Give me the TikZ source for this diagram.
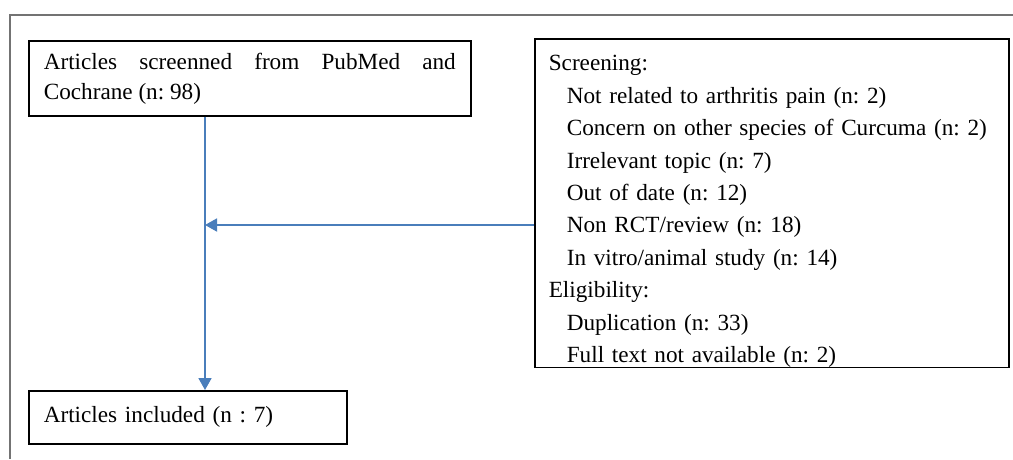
\documentclass[tikz,border=0pt]{standalone}
\usepackage{fontspec}
\setmainfont{Liberation Serif}
\usetikzlibrary{arrows.meta,calc}
\definecolor{arrowblue}{RGB}{74,126,187}
\frenchspacing
\tikzset{
  box/.style={draw=black, line width=1.6pt, anchor=north west, inner ysep=0pt, font=\fontsize{23.2}{32.4}\selectfont},
  flow/.style={draw=arrowblue, line width=1.8pt, -{Triangle[length=12pt,width=13pt]}},
  frame/.style={draw=black!55, line width=2pt}
}
\begin{document}
\begin{tikzpicture}[x=1pt,y=1pt]
\useasboundingbox (0,0) rectangle (1013,-459);
\draw[frame] (1013,-15) -- (10,-15) -- (10,-459);
\node[box, text width=412pt, inner xsep=15pt, minimum height=75pt, align=justify, font=\fontsize{23.2}{30}\selectfont] (screen) at (28,-40)
  {Articles screenned from PubMed and\linebreak Cochrane (n: 98)};
\node[box, text width=446pt, inner xsep=14pt, minimum height=328pt, align=left] (excl) at (534,-38)
  {\rule{0pt}{32pt}Screening:\\
   \hspace*{18pt}Not related to arthritis pain (n: 2)\\
   \hspace*{18pt}Concern on other species of Curcuma (n: 2)\\
   \hspace*{18pt}Irrelevant topic (n: 7)\\
   \hspace*{18pt}Out of date (n: 12)\\
   \hspace*{18pt}Non RCT/review (n: 18)\\
   \hspace*{18pt}In vitro/animal study (n: 14)\\
   Eligibility:\\
   \hspace*{18pt}Duplication (n: 33)\\
   \hspace*{18pt}Full text not available (n: 2)};
\node[box, text width=288pt, inner xsep=15pt, minimum height=53pt, align=left] (incl) at (28,-390)
  {Articles included (n : 7)};
\coordinate (top) at ($(screen.south west)+(177,0)$);
\coordinate (bot) at ($(incl.north west)+(177,0)$);
\coordinate (join) at (205,-225);
\draw[flow] (top) -- (bot);
\draw[flow] (excl.west |- join) -- (join);
\end{tikzpicture}
\end{document}
